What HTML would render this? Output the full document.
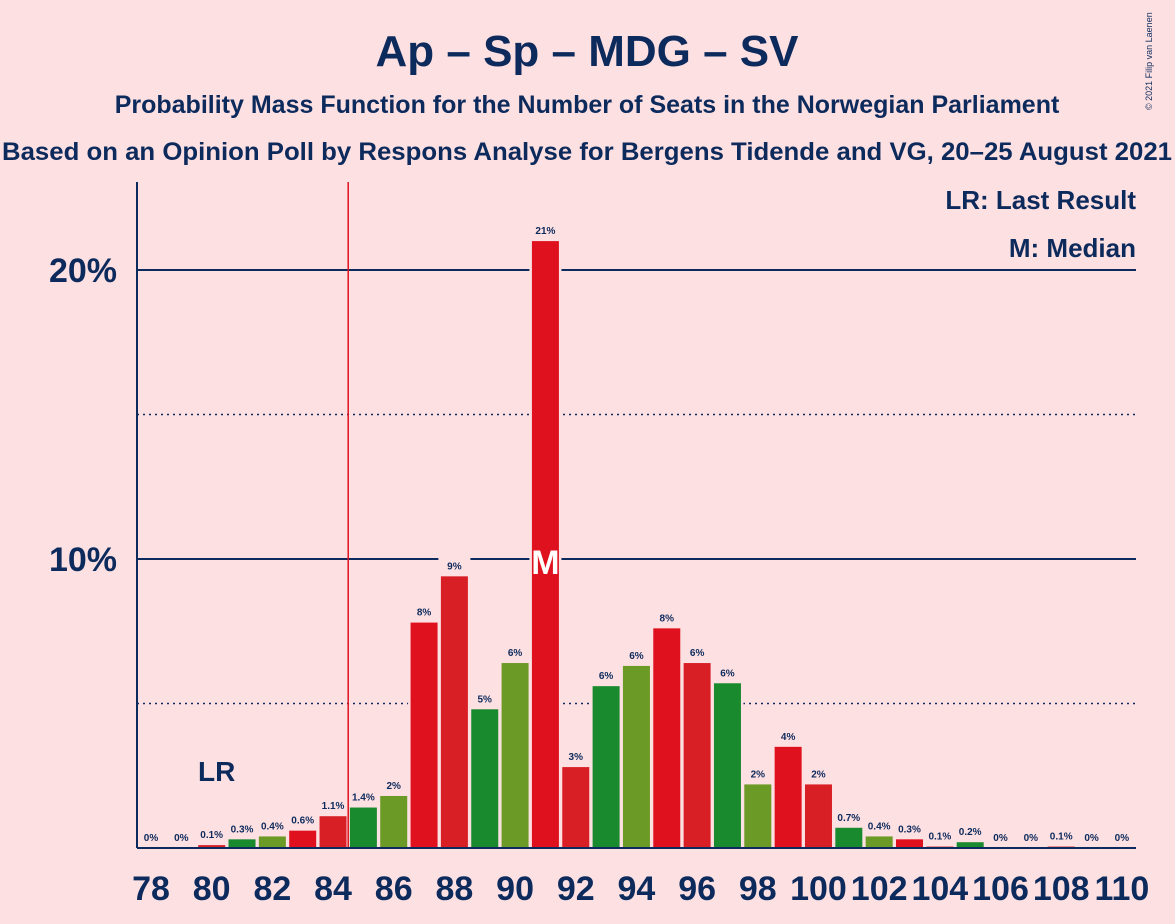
<!DOCTYPE html>
<html><head><meta charset="utf-8"><style>
body{margin:0;background:#fde0e2;font-family:"Liberation Sans",sans-serif;}
svg{display:block}
</style></head><body>
<svg id="c" width="1175" height="924">
<rect width="1175" height="924" fill="#fde0e2"/>
<text x="587" y="66" text-anchor="middle" font-size="44" font-weight="bold" fill="#0d2a5c">Ap – Sp – MDG – SV</text>
<text x="587" y="113" text-anchor="middle" font-size="25" font-weight="bold" fill="#0d2a5c">Probability Mass Function for the Number of Seats in the Norwegian Parliament</text>
<text x="587" y="160" text-anchor="middle" font-size="25" font-weight="bold" fill="#0d2a5c" textLength="1170" lengthAdjust="spacingAndGlyphs">Based on an Opinion Poll by Respons Analyse for Bergens Tidende and VG, 20–25 August 2021</text>
<text x="1152" y="110" font-size="9" fill="#0d2a5c" transform="rotate(-90 1152 110)">© 2021 Filip van Laenen</text>
<g id="g"></g>
<text x="1136" y="209" text-anchor="end" font-size="26" font-weight="bold" fill="#0d2a5c">LR: Last Result</text>
<text x="1136" y="257" text-anchor="end" font-size="26" font-weight="bold" fill="#0d2a5c">M: Median</text>
</svg>
<script>
const seats=[78,79,80,81,82,83,84,85,86,87,88,89,90,91,92,93,94,95,96,97,98,99,100,101,102,103,104,105,106,107,108,109,110];
const probs=[0,0,0.1,0.3,0.4,0.6,1.1,1.4,1.8,7.8,9.4,4.8,6.4,21.0,2.8,5.6,6.3,7.6,6.4,5.7,2.2,3.5,2.2,0.7,0.4,0.3,0.05,0.2,0,0,0.05,0,0];
const valueLabels=["0%","0%","0.1%","0.3%","0.4%","0.6%","1.1%","1.4%","2%","8%","9%","5%","6%","21%","3%","6%","6%","8%","6%","6%","2%","4%","2%","0.7%","0.4%","0.3%","0.1%","0.2%","0%","0%","0.1%","0%","0%"];
const yTicks=[5,10,15,20];
const yTickLabels={10:"10%",20:"20%"};
const xTickLabels=[78,80,82,84,86,88,90,92,94,96,98,100,102,104,106,108,110];
const lastResult=80, median=91;
const NS="http://www.w3.org/2000/svg";
const g=document.getElementById('g');
const x=s=>151+(s-78)*30.34;
const y=v=>848-v*28.9;
function el(t,a,txt){const e=document.createElementNS(NS,t);for(const k in a)e.setAttribute(k,a[k]);if(txt!==undefined)e.textContent=txt;g.appendChild(e);return e;}
yTicks.forEach(t=>{
 const major=t%10===0;
 const l=el('line',{x1:137,x2:1136,y1:y(t),y2:y(t),stroke:'#0d2a5c','stroke-width':major?2:1.5,'stroke-dasharray':major?'':'2,4'});
 
 
 if(yTickLabels[t]){const tx=el('text',{x:117,y:y(t)+12,'text-anchor':'end','font-size':34,'font-weight':'bold',fill:'#0d2a5c'},yTickLabels[t]);
 
 }
});
const cyc=['#1a8a2e','#6b9a26','#e0111f','#d91f26'];
seats.forEach((s,i)=>{
 const v=probs[i];
 const c=cyc[(s-81+400)%4];
 if(v>0){
 const bg=el('rect',{x:x(s)-16,y:y(v)-40,width:32,height:848-y(v)+40,fill:'#fde0e2'});
 
 
 }
});
seats.forEach((s,i)=>{
 const v=probs[i];
 const c=cyc[(s-81+400)%4];
 if(v>0){const r=el('rect',{x:x(s)-13.5,y:y(v),width:27,height:848-y(v),fill:c});
 
 }
 const t=el('text',{x:x(s),y:y(v)-7,'text-anchor':'middle','font-size':10,'font-weight':'bold',fill:'#0d2a5c'},valueLabels[i]);
 
 
});
const m=el('text',{x:x(median),y:y(10)+15,'text-anchor':'middle','font-size':34,'font-weight':'bold',fill:'#fff'},'M');


const lr=el('line',{x1:x(84.5),x2:x(84.5),y1:182,y2:848,stroke:'#e0111f','stroke-width':1.5});


const lrt=el('text',{x:x(lastResult)+5,y:781,'text-anchor':'middle','font-size':28,'font-weight':'bold',fill:'#0d2a5c'},'LR');


const ya=el('line',{x1:137,x2:137,y1:182,y2:848,stroke:'#0d2a5c','stroke-width':2});


const xa=el('line',{x1:137,x2:1136,y1:848,y2:848,stroke:'#0d2a5c','stroke-width':2});


xTickLabels.forEach(s=>{const t=el('text',{x:x(s),y:900,'text-anchor':'middle','font-size':34,'font-weight':'bold',fill:'#0d2a5c'},String(s));
 
 });
</script>
</body></html>
